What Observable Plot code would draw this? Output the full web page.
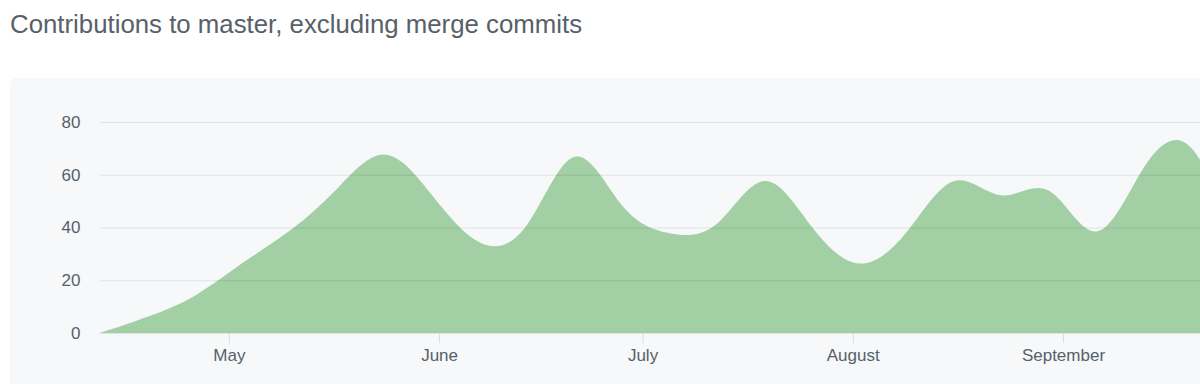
<!DOCTYPE html>
<html>
<head>
<meta charset="utf-8">
<script src="https://cdn.jsdelivr.net/npm/d3@7"></script>
<script src="https://cdn.jsdelivr.net/npm/@observablehq/plot@0.6"></script>
<style>
  html, body { margin: 0; padding: 0; background: #fff; overflow: hidden; width: 1200px; height: 384px; }
  body { position: relative; font-family: "Liberation Sans", Arial, Helvetica, sans-serif; }
  #title { position: absolute; left: 10px; top: 10px; font-size: 25.8px; color: #586069; white-space: nowrap; }
  #panel { position: absolute; left: 10px; top: 78px; width: 1300px; height: 400px; background: #f6f8fa; border-radius: 6px; }
  #chart { position: absolute; left: 0; top: 78px; }
  #chart svg { background: transparent !important; }
</style>
</head>
<body>
<div id="title">Contributions to master, excluding merge commits</div>
<div id="panel"></div>
<div id="chart"></div>
<script>
// Weekly commits (week starting Sunday)
const weeks = [
  "2015-04-12", "2015-04-19", "2015-04-26", "2015-05-03", "2015-05-10",
  "2015-05-17", "2015-05-24", "2015-05-31", "2015-06-07", "2015-06-14",
  "2015-06-21", "2015-06-28", "2015-07-05", "2015-07-12", "2015-07-19",
  "2015-07-26", "2015-08-02", "2015-08-09", "2015-08-16", "2015-08-23",
  "2015-08-30", "2015-09-06", "2015-09-13", "2015-09-20", "2015-09-27",
  "2015-10-04"
];
const commits = [
  0, 6, 13, 27, 38,
  54, 75, 52, 30, 34,
  81, 43, 37, 36, 68,
  38, 21, 36, 66, 46,
  63, 25, 68, 81, 28,
  30
];
const yTicks = [0, 20, 40, 60, 80];
const monthTicks = ["2015-05-01", "2015-06-01", "2015-07-01", "2015-08-01", "2015-09-01"];
const xStart = "2015-04-12";
const xEnd = "2015-09-21T05:00";

const data = weeks.map((d, i) => ({week: new Date(d), commits: commits[i]}));

const chart = Plot.plot({
  width: 1200,
  height: 306,
  marginLeft: 100,
  marginRight: 0,
  marginTop: 44,
  marginBottom: 51,
  style: {background: "transparent", fontFamily: "'Liberation Sans', Arial, sans-serif", fontSize: "17px"},
  x: {type: "utc", domain: [new Date(xStart), new Date(xEnd)]},
  y: {domain: [0, 80]},
  marks: [
    Plot.areaY(data, {x: "week", y: "commits", fill: "#a3cfa5", curve: "basis", clip: true}),
    Plot.ruleY(yTicks, {stroke: "#000", strokeOpacity: 0.09}),
    Plot.axisY({ticks: yTicks, tickSize: 0, tickPadding: 20, label: null, fill: "#586069", fontSize: 17}),
    Plot.axisX({ticks: monthTicks.map(d => new Date(d)), tickFormat: d3.utcFormat("%B"), tickSize: 10, tickPadding: 5,
      label: null, stroke: "#d8dbdf", fill: "#586069", fontSize: 17})
  ]
});
document.getElementById("chart").appendChild(chart);
</script>
</body>
</html>
